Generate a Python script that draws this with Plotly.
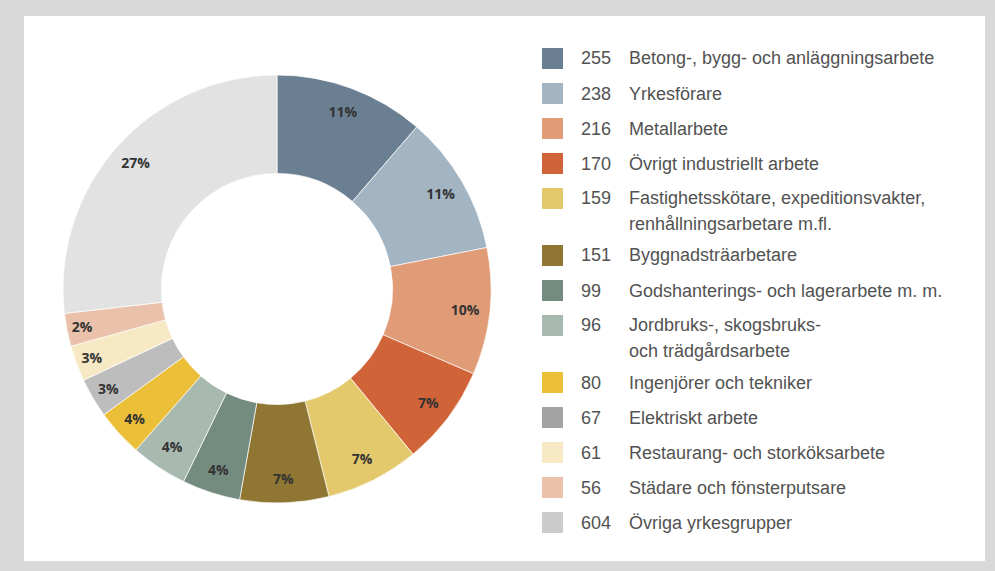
import plotly.graph_objects as go

categories = [
    "Betong-, bygg- och anläggningsarbete",
    "Yrkesförare",
    "Metallarbete",
    "Övrigt industriellt arbete",
    "Fastighetsskötare, expeditionsvakter,<br>renhållningsarbetare m.fl.",
    "Byggnadsträarbetare",
    "Godshanterings- och lagerarbete m. m.",
    "Jordbruks-, skogsbruks-<br>och trädgårdsarbete",
    "Ingenjörer och tekniker",
    "Elektriskt arbete",
    "Restaurang- och storköksarbete",
    "Städare och fönsterputsare",
    "Övriga yrkesgrupper",
]
values = [255, 238, 216, 170, 159, 151, 99, 96, 80, 67, 61, 56, 604]
percent_labels = ["11%", "11%", "10%", "7%", "7%", "7%", "4%", "4%", "4%", "3%", "3%", "2%", "27%"]
slice_colors = ["#6a7f91", "#a3b4c2", "#e09c76", "#d06438", "#e4c96c", "#8f7632",
                "#748b80", "#a8b9b0", "#ebbf38", "#bdbdbd", "#f6e9c3", "#eac2ab", "#e2e2e2"]
legend_colors = ["#6a7f91", "#a3b4c2", "#e09c76", "#d06438", "#e4c96c", "#8f7632",
                 "#748b80", "#a8b9b0", "#ebbf38", "#a3a3a3", "#f6e9c3", "#eac2ab", "#cccccc"]

W, H = 995, 571
pie_domain = dict(x=[63 / W, 491 / W], y=[1 - 503 / H, 1 - 75 / H])
plain_labels = [c.replace("<br>", " ") for c in categories]

fig = go.Figure()
# coloured donut ring
fig.add_trace(go.Pie(
    values=values,
    labels=plain_labels,
    textinfo="none",
    marker=dict(colors=slice_colors, line=dict(color="white", width=0.7)),
    hole=0.54,
    sort=False,
    direction="clockwise",
    rotation=0,
    showlegend=False,
    domain=pie_domain,
    hoverinfo="label+value+percent",
))
# transparent outer ring carrying the percentage labels near the outer edge
fig.add_trace(go.Pie(
    values=values,
    labels=plain_labels,
    text=percent_labels,
    textinfo="text",
    textposition="inside",
    insidetextorientation="horizontal",
    textfont=dict(family="Open Sans", size=14, color="#333333", weight="bold"),
    marker=dict(colors=["rgba(0,0,0,0)"] * len(values), line=dict(width=0)),
    hole=0.77,
    sort=False,
    direction="clockwise",
    rotation=0,
    showlegend=False,
    domain=pie_domain,
    hoverinfo="skip",
))

shapes = [dict(type="rect", xref="paper", yref="paper", x0=24 / W, x1=985 / W,
               y0=1 - 561 / H, y1=1 - 16 / H, fillcolor="white", line=dict(width=0), layer="below")]
annotations = []
font = dict(family="Liberation Sans", size=18, color="#525252")
y = 58.5
for i, (cat, val) in enumerate(zip(categories, values)):
    lines = cat.split("<br>")
    shapes.append(dict(type="rect", xref="paper", yref="paper",
                       x0=542 / W, x1=563 / W, y0=1 - (y + 10.5) / H, y1=1 - (y - 10.5) / H,
                       fillcolor=legend_colors[i], line=dict(width=0)))
    annotations.append(dict(xref="paper", yref="paper", x=579 / W, y=1 - y / H,
                            xanchor="left", yanchor="middle", text=str(val), showarrow=False,
                            font=font))
    for k, line in enumerate(lines):
        annotations.append(dict(xref="paper", yref="paper", x=627 / W, y=1 - (y + 25.5 * k) / H,
                                xanchor="left", yanchor="middle", text=line, showarrow=False,
                                font=font))
    y += 35 + (len(lines) - 1) * 22

fig.update_layout(
    width=W, height=H,
    margin=dict(l=0, r=0, t=0, b=0),
    paper_bgcolor="#d9d9d9",
    plot_bgcolor="#d9d9d9",
    shapes=shapes,
    annotations=annotations,
)
fig.write_html("out.html", config={"displayModeBar": False},
               post_script="document.body.style.margin='0';")
